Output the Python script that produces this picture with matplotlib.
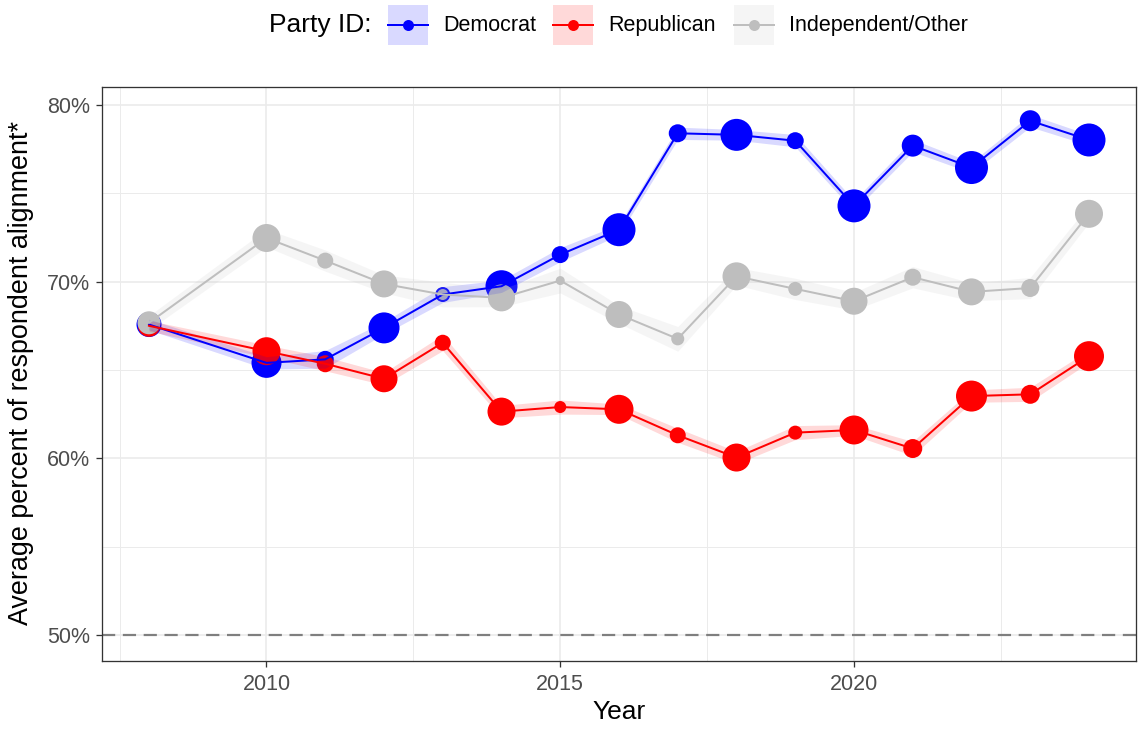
import matplotlib
matplotlib.use("Agg")
import matplotlib.pyplot as plt
from matplotlib.patches import Rectangle
from matplotlib.lines import Line2D
from matplotlib.ticker import FuncFormatter, FixedLocator

plt.rcParams['font.family'] = ['Liberation Sans', 'DejaVu Sans']
plt.rcParams['lines.scale_dashes'] = False

# ---- data -------------------------------------------------------------
years = [2008, 2010, 2011, 2012, 2013, 2014, 2015, 2016,
         2017, 2018, 2019, 2020, 2021, 2022, 2023, 2024]

dem = [67.57, 65.4, 65.6, 67.38, 69.27, 69.74, 71.53, 72.94,
       78.40, 78.31, 77.98, 74.29, 77.70, 76.46, 79.11, 78.02]
rep = [67.5, 66.06, 65.35, 64.50, 66.54, 62.64, 62.90, 62.77,
       61.30, 60.04, 61.45, 61.60, 60.55, 63.52, 63.62, 65.78]
ind = [67.67, 72.47, 71.19, 69.87, 69.27, 69.08, 70.06, 68.14,
       66.76, 70.30, 69.59, 68.89, 70.25, 69.42, 69.64, 73.84]

# half-width of the uncertainty band (percentage points)
dem_err = [0.30, 0.35, 0.50, 0.35, 0.45, 0.35, 0.40, 0.30,
           0.35, 0.30, 0.35, 0.30, 0.35, 0.30, 0.35, 0.30]
rep_err = [0.30, 0.35, 0.40, 0.35, 0.45, 0.35, 0.40, 0.30,
           0.40, 0.35, 0.40, 0.30, 0.40, 0.35, 0.40, 0.35]
ind_err = [0.40, 0.50, 0.60, 0.50, 0.70, 0.50, 0.70, 0.50,
           0.70, 0.50, 0.60, 0.50, 0.60, 0.50, 0.60, 0.50]

# relative respondent weight shown by point diameter
dem_w = [25, 30, 17, 31, 15, 32, 17, 33, 18, 32, 17, 33, 22, 33, 21, 33]
rep_w = [22, 28, 17, 27, 16, 28, 12, 29, 16, 28, 14, 29, 19, 31, 19, 30]
ind_w = [23, 28, 16, 27, 11, 27, 9, 27, 13, 28, 14, 27, 17, 27, 18, 28]

parties = ["Democrat", "Republican", "Independent/Other"]
colors = ["#0000FF", "#FF0000", "#BEBEBE"]
series = [dem, rep, ind]
errors = [dem_err, rep_err, ind_err]
weights = [dem_w, rep_w, ind_w]

x_ticks = [2010, 2015, 2020]
y_ticks = [50, 60, 70, 80]

# ---- figure -----------------------------------------------------------
W, H, DPI = 1138, 729, 100
PX = 72.0 / DPI  # points per pixel
fig = plt.figure(figsize=(W / DPI, H / DPI), dpi=DPI)
fig.patch.set_facecolor("white")

left, right, top, bottom = 102, 1136, 87, 661
ax = fig.add_axes([left / W, 1 - bottom / H, (right - left) / W, (bottom - top) / H])

ax.set_xlim(2007.2, 2024.8)
ax.set_ylim(48.52, 81.02)

# grid
ax.xaxis.set_major_locator(FixedLocator(x_ticks))
ax.xaxis.set_minor_locator(FixedLocator([2007.5, 2012.5, 2017.5, 2022.5]))
ax.yaxis.set_major_locator(FixedLocator(y_ticks))
ax.yaxis.set_minor_locator(FixedLocator([55, 65, 75]))
ax.grid(which="major", color="#EBEBEB", linewidth=1.6 * PX, zorder=0)
ax.grid(which="minor", color="#EBEBEB", linewidth=1.0 * PX, zorder=0)
ax.set_axisbelow(True)
ax.tick_params(which="minor", length=0)
ax.tick_params(which="major", length=6 * PX, width=1.3 * PX, color="#333333",
               labelcolor="#4D4D4D", labelsize=15.5, pad=4.5)
ax.tick_params(axis="x", pad=5)
ax.yaxis.set_major_formatter(FuncFormatter(lambda v, p: f"{v:.0f}%"))
for s in ax.spines.values():
    s.set_color("#333333")
    s.set_linewidth(1.3 * PX)

# reference line at 50%
ax.axhline(50, color="#7F7F7F", linewidth=2.2 * PX, linestyle=(0, (9.5, 5.5)), zorder=1)

# points
for vals, w, c in zip(series, weights, colors):
    ax.scatter(years, vals, s=[(d * PX) ** 2 for d in w], color=c,
               linewidths=0, zorder=2)
# bands
for vals, err, c in zip(series, errors, colors):
    lo = [v - e for v, e in zip(vals, err)]
    hi = [v + e for v, e in zip(vals, err)]
    ax.fill_between(years, lo, hi, color=c, alpha=0.15, linewidth=0, zorder=3)
# lines
for vals, c in zip(series, colors):
    ax.plot(years, vals, color=c, linewidth=2.0 * PX, zorder=4,
            solid_joinstyle="round")

# axis titles
fig.text(619 / W, 1 - 712 / H, "Year", ha="center", va="center",
         fontsize=19, color="black")
fig.text(21 / W, 1 - 373 / H, "Average percent of respondent alignment*",
         ha="center", va="center", rotation=90, fontsize=19.4, color="black")

# ---- legend ------------------------------------------------------------
ov = fig.add_axes([0, 0, 1, 1], zorder=10)
ov.set_xlim(0, W)
ov.set_ylim(H, 0)
ov.axis("off")

ov.text(372, 25, "Party ID:", ha="right", va="center", fontsize=19, color="black")
key_x = [388, 553, 734]
for kx, name, c in zip(key_x, parties, colors):
    ov.add_patch(Rectangle((kx, 5), 40, 40, facecolor=c, alpha=0.15, linewidth=0))
    ov.add_line(Line2D([kx, kx + 40], [25, 25], color=c, linewidth=2.0 * PX))
    ov.plot([kx + 20], [25], "o", color=c, markersize=11 * PX, markeredgewidth=0)
    ov.text(kx + 55, 25, name, ha="left", va="center", fontsize=15.5, color="black")

fig.savefig("out.png", dpi=DPI)
